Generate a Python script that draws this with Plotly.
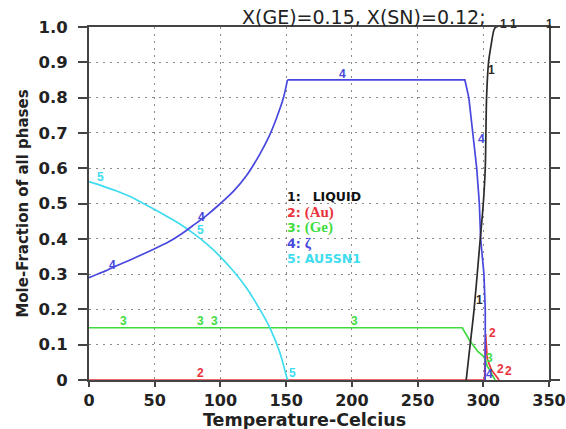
import plotly.graph_objects as go

# Phase fractions vs temperature (Au-Ge-Sn, X(GE)=0.15, X(SN)=0.12)
liquid_t = [287, 290, 293, 297, 300, 301.5, 302, 302.5, 304, 306, 308, 309.5, 311]
liquid_f = [0.0, 0.10, 0.20, 0.37, 0.50, 0.60, 0.70, 0.80, 0.90, 0.95, 0.99, 1.0, 1.0]

au_t = [0, 301, 301.8, 303, 306, 312]
au_f = [0.0, 0.0, 0.13, 0.06, 0.03, 0.0]

ge_t = [0, 284, 290, 296, 300.5, 303, 306, 309]
ge_f = [0.148, 0.148, 0.11, 0.08, 0.066, 0.04, 0.02, 0.0]

# zeta: rising branch, then plateau and the drop near the liquidus
zeta_rise_t = [0, 10, 20, 30, 40, 50, 60, 70, 80, 90, 100, 110, 120, 130, 137, 143, 148, 151]
zeta_rise_f = [0.29, 0.305, 0.322, 0.338, 0.355, 0.372, 0.39, 0.413, 0.44, 0.468, 0.50, 0.535,
               0.58, 0.64, 0.69, 0.745, 0.80, 0.85]
zeta_high_t = [151, 286, 289, 292, 295, 297, 298, 300.5, 301.5, 301.5]
zeta_high_f = [0.85, 0.85, 0.80, 0.70, 0.60, 0.50, 0.40, 0.30, 0.20, 0.0]

au5sn1_t = [0, 10, 20, 30, 40, 50, 60, 70, 80, 90, 100, 110, 120, 130, 138, 145, 151]
au5sn1_f = [0.562, 0.55, 0.537, 0.522, 0.503, 0.483, 0.462, 0.44, 0.414, 0.384, 0.349, 0.308,
            0.26, 0.20, 0.145, 0.08, 0.0]

x_ticks = [0, 50, 100, 150, 200, 250, 300, 350]
y_ticks = [0, 0.1, 0.2, 0.3, 0.4, 0.5, 0.6, 0.7, 0.8, 0.9, 1.0]
y_ticktext = ["0", "0.1", "0.2", "0.3", "0.4", "0.5", "0.6", "0.7", "0.8", "0.9", "1.0"]

# Curve tags: (phase number, temperature, fraction)
curve_tags = [
    ("5", 9, 0.575), ("4", 18, 0.326), ("4", 85.5, 0.463), ("5", 84.5, 0.425),
    ("4", 193, 0.866), ("3", 26.5, 0.166), ("3", 84.5, 0.166), ("3", 95.5, 0.166),
    ("3", 202, 0.166), ("2", 84.5, 0.02), ("5", 155, 0.02), ("1", 297, 0.227),
    ("1", 306, 0.878), ("4", 299, 0.682), ("2", 307, 0.133), ("3", 304.5, 0.062),
    ("4", 305, 0.016), ("2", 313, 0.032), ("2", 319.5, 0.026),
    ("1", 315, 1.035), ("1", 323, 1.035), ("1", 350, 1.035),
]

legend_entries = [
    ("1:", "LIQUID"), ("2:", "(Au)"), ("3:", "(Ge)"), ("4:", "ζ"), ("5:", "AU5SN1"),
]

colors = {"1": "#2b2b2b", "2": "#e8323c", "3": "#3fdc3f", "4": "#4848de", "5": "#3fdcef"}
SANS = "Liberation Sans, Arial, sans-serif"
WIDE = "DejaVu Sans, Verdana, sans-serif"
SERIF = "Liberation Serif, Times New Roman, serif"

fig = go.Figure()
series = [
    ("2", au_t, au_f, "linear"), ("3", ge_t, ge_f, "linear"),
    ("5", au5sn1_t, au5sn1_f, "spline"), ("4", zeta_rise_t, zeta_rise_f, "spline"),
    ("4", zeta_high_t, zeta_high_f, "linear"), ("1", liquid_t, liquid_f, "spline"),
]
for key, t, f, shape in series:
    fig.add_trace(go.Scatter(x=t, y=f, mode="lines",
                             line=dict(color=colors[key], width=1.7, shape=shape, smoothing=0.8),
                             showlegend=False, hoverinfo="skip", cliponaxis=False))

for tag, t, f in curve_tags:
    yref = "y domain" if f > 1.0 else "y"
    fig.add_annotation(x=t, y=f, xref="x", yref=yref, text=f"<b>{tag}</b>", showarrow=False,
                       font=dict(family=SANS, size=12, color=colors[tag]))

# Phase key
for i, (num, name) in enumerate(legend_entries):
    key = num[0]
    fam = SERIF if name in ("(Au)", "(Ge)", "ζ") else WIDE
    size = 15 if fam == SERIF else 12.5
    gap = "&nbsp;&nbsp;&nbsp;" if key == "1" else "&nbsp;"
    fig.add_annotation(
        xref="x", yref="y", x=149, y=0.519 - i * 0.044, xanchor="left", showarrow=False,
        text=(f"<span style='font-family:{WIDE}'><b>{num}</b></span>{gap}"
              f"<span style='font-family:{fam};font-size:{size}px'><b>{name}</b></span>"),
        font=dict(family=WIDE, size=12.5, color=colors[key] if key != "1" else "#111"),
    )

fig.add_annotation(xref="paper", yref="paper", x=0.598, y=1.0, yanchor="bottom", yshift=-3,
                   text="X(GE)=0.15, X(SN)=0.12;", showarrow=False,
                   font=dict(family=WIDE, size=19, color="#222"))
fig.add_annotation(xref="paper", yref="paper", x=0.469, y=0, yanchor="top", yshift=-28,
                   text="<b>Temperature-Celcius</b>", showarrow=False,
                   font=dict(family=WIDE, size=17.5, color="#222"))

axis_common = dict(
    showline=True, linecolor="#444", linewidth=2, ticks="outside", tickwidth=2,
    tickcolor="#444", showgrid=True, gridcolor="#8a8a8a", gridwidth=1, griddash="2px,5px",
    zeroline=False, automargin=False, ticklabeloverflow="allow",
)
fig.update_xaxes(range=[0, 350], tickvals=x_ticks, ticktext=[f"<b>{v}</b>" for v in x_ticks],
                 mirror=True, ticklen=5, ticklabelstandoff=0,
                 tickfont=dict(family=WIDE, size=16, color="#222"), **axis_common)
fig.update_yaxes(range=[0, 1.0], tickvals=y_ticks, ticktext=[f"<b>{s}</b>" for s in y_ticktext],
                 mirror="ticks", ticklen=9, ticklabelstandoff=7,
                 tickfont=dict(family=WIDE, size=16.5, color="#222"),
                 title=dict(text="<b>Mole-Fraction of all phases</b>", standoff=6,
                            font=dict(family=WIDE, size=15, color="#222")),
                 **axis_common)

fig.update_layout(
    width=566, height=429, margin=dict(l=89, r=17, t=27, b=49),
    paper_bgcolor="white", plot_bgcolor="white",
)
fig.write_html("out.html")
